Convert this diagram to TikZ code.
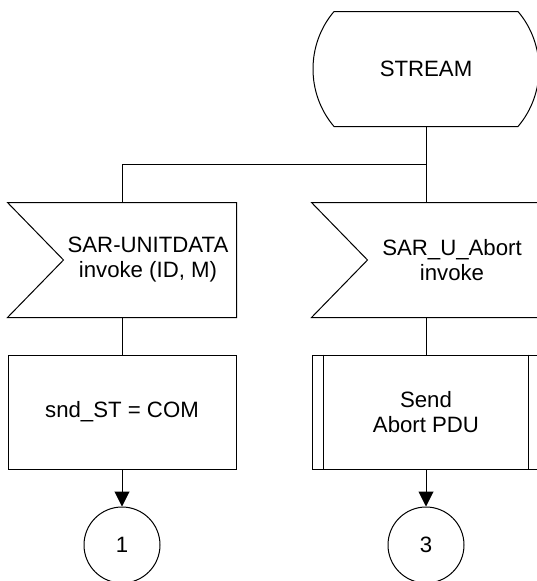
\documentclass[tikz,border=0pt]{standalone}
\usepackage{fontspec}
\setmainfont{Liberation Sans}
\usetikzlibrary{arrows.meta,positioning,calc}

\begin{document}
\begin{tikzpicture}[x=1pt, y=1pt, line width=1pt, font=\fontsize{22.2pt}{25pt}\selectfont, node distance=37pt]
  \tikzstyle{sdlbox}=[minimum width=228pt, minimum height=114pt, inner sep=0pt, align=center]
  \tikzstyle{statebox}=[sdlbox, minimum width=183pt]
  \tikzstyle{taskbox}=[sdlbox, draw]
  \tikzstyle{joint}=[draw, circle, minimum size=76pt, inner sep=0pt]
  \tikzstyle{signal}=[align=center]
  \useasboundingbox (0,0) rectangle (537,-581);
  % state
  \node[statebox] (st) at (426,-69) {STREAM};
  \draw (st.north west) -- (st.north east) .. controls +(28,-33) and +(28,33) .. (st.south east)
    -- (st.south west) .. controls +(-28,33) and +(-28,-33) .. (st.north west);
  % inputs
  \node[sdlbox, below=76pt of st] (in2) {};
  \node[sdlbox, left=75pt of in2] (in1) {};
  \foreach \n in {in1,in2}
    \draw (\n.north west) -- (\n.north east) -- (\n.south east) -- (\n.south west) -- ($(\n.west)+(56,0)$) -- cycle;
  \node[signal] (in1txt) at ([xshift=26pt]in1.center) {SAR-UNITDATA\\invoke (ID, M)};
  \node[signal] (in2txt) at ([xshift=26pt]in2.center) {SAR\_U\_Abort\\invoke};
  % task and procedure
  \node[taskbox, below=of in1] (t1) {snd\_ST = COM};
  \node[taskbox, below=of in2] (p2) {Send\\Abort PDU};
  \draw ([xshift=12pt]p2.north west) -- ([xshift=12pt]p2.south west);
  \draw ([xshift=-12pt]p2.north east) -- ([xshift=-12pt]p2.south east);
  % connectors
  \node[joint, below=of t1] (c1) {1};
  \node[joint, below=of p2] (c3) {3};
  \coordinate (split) at ($(st.south)!.5!(in2.north)$);
  \draw (st) -- (in2);
  \draw (split) -| (in1);
  \draw (in1) -- (t1);
  \draw (in2) -- (p2);
  \draw[-{Triangle[length=15pt, width=15pt]}] (t1) -- (c1);
  \draw[-{Triangle[length=15pt, width=15pt]}] (p2) -- (c3);
\end{tikzpicture}
\end{document}
